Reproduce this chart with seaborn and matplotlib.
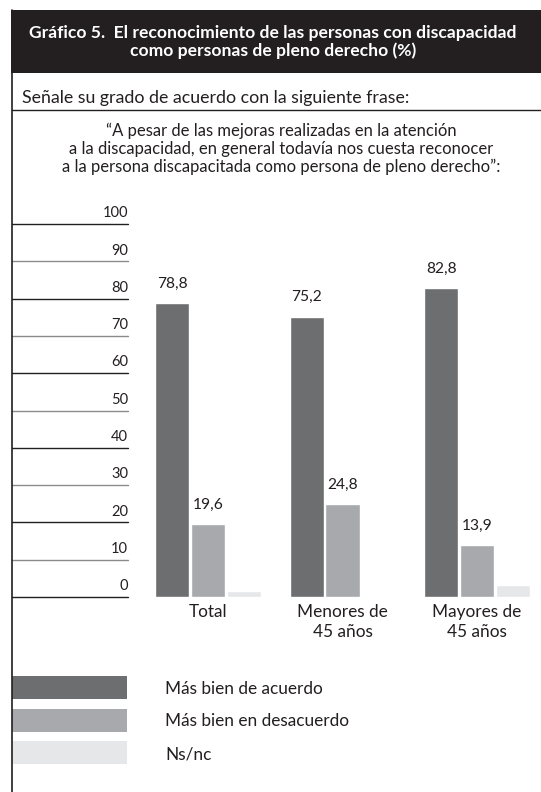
import matplotlib
matplotlib.use("Agg")
import matplotlib.pyplot as plt
from matplotlib.patches import Rectangle
from matplotlib.lines import Line2D
import pandas as pd
import seaborn as sns

# datos del gráfico
grupos = ["Total", "Menores de\n45 años", "Mayores de\n45 años"]
respuestas = ["Más bien de acuerdo", "Más bien en desacuerdo", "Ns/nc"]
de_acuerdo = [78.8, 75.2, 82.8]
en_desacuerdo = [19.6, 24.8, 13.9]
ns_nc = [1.6, 0.0, 3.3]
ticks_y = [0, 10, 20, 30, 40, 50, 60, 70, 80, 90, 100]
colores = ["#6d6e70", "#a7a9ac", "#e6e7e8"]

titulo = ("Gráfico 5.  El reconocimiento de las personas con discapacidad\n"
          "como personas de pleno derecho (%)")
pregunta = "Señale su grado de acuerdo con la siguiente frase:"
frase = ("“A pesar de las mejoras realizadas en la atención\n"
         "a la discapacidad, en general todavía nos cuesta reconocer\n"
         "a la persona discapacitada como persona de pleno derecho”:")

filas = []
for serie, valores in zip(respuestas, [de_acuerdo, en_desacuerdo, ns_nc]):
    for g, v in zip(grupos, valores):
        filas.append({"grupo": g, "respuesta": serie, "valor": v})
df = pd.DataFrame(filas)

sns.set_style("white")
plt.rcParams["font.family"] = ["Lato", "DejaVu Sans"]

W, H = 541, 792
fig = plt.figure(figsize=(W / 100, H / 100), dpi=100)

def fx(px):
    return px / W

def fy(py):
    return 1 - py / H

# marco: cabecera negra, línea izquierda y separador
fig.add_artist(Rectangle((fx(11), fy(73)), fx(530), 63 / H, transform=fig.transFigure,
                         facecolor="#231f20", edgecolor="none"))
fig.add_artist(Line2D([fx(12), fx(12)], [0, fy(10)], transform=fig.transFigure,
                      color="#231f20", lw=1.2))
fig.add_artist(Line2D([fx(12), 1], [fy(110), fy(110)], transform=fig.transFigure,
                      color="#231f20", lw=1.0))

fig.text(fx(273), fy(42), titulo, color="white", fontsize=12.6, fontweight="bold",
         ha="center", va="center", linespacing=1.1)
fig.text(fx(22), fy(98), pregunta, fontsize=12.8, color="#231f20", ha="left", va="center")
fig.text(fx(281), fy(149), frase, fontsize=12.0, color="#231f20", ha="center", va="center",
         linespacing=1.12)

# área de barras
ax = fig.add_axes([fx(12), (H - 597) / H, fx(529), 373 / H])
sns.barplot(data=df, x="grupo", y="valor", hue="respuesta", palette=colores,
            width=0.8, gap=0.05, legend=False, ax=ax, saturation=1)
ax.set_xlim(-1.457, 2.476)
ax.set_ylim(0, 100)
ax.set_xlabel("")
ax.set_ylabel("")
ax.set_xticks([])
ax.set_yticks([])
for s in ax.spines.values():
    s.set_visible(False)
ax.patch.set_alpha(0)

# rejilla corta a la izquierda con las cifras
xmax = (128 - 12) / 529
tr = ax.get_yaxis_transform()
for i, v in enumerate(ticks_y):
    ax.axhline(v, xmin=0, xmax=xmax, color="#231f20" if i % 2 == 0 else "#8a8b8d",
               lw=1.0, clip_on=False)
    ax.text(xmax, v + 1.0, str(v), transform=tr, ha="right", va="bottom",
            fontsize=10.5, color="#231f20")

# etiquetas de valores (sin Ns/nc)
for cont in ax.containers[:2]:
    ax.bar_label(cont, labels=[f"{b.get_height():.1f}".replace(".", ",") for b in cont],
                 padding=9, fontsize=11.2, color="#231f20")

for i, g in enumerate(grupos):
    ax.text(i, -2.0, g, ha="center", va="top", fontsize=12.4, color="#231f20",
            linespacing=1.25, clip_on=False)

# leyenda
for k, (serie, col) in enumerate(zip(respuestas, colores)):
    top = 676 + k * 32.5
    fig.add_artist(Rectangle((fx(12), fy(top + 23)), fx(115), 23 / H,
                             transform=fig.transFigure, facecolor=col, edgecolor="none"))
    fig.text(fx(165), fy(top + 13), serie, fontsize=12.4, color="#231f20",
             ha="left", va="center")

fig.savefig("out.png", dpi=100)
